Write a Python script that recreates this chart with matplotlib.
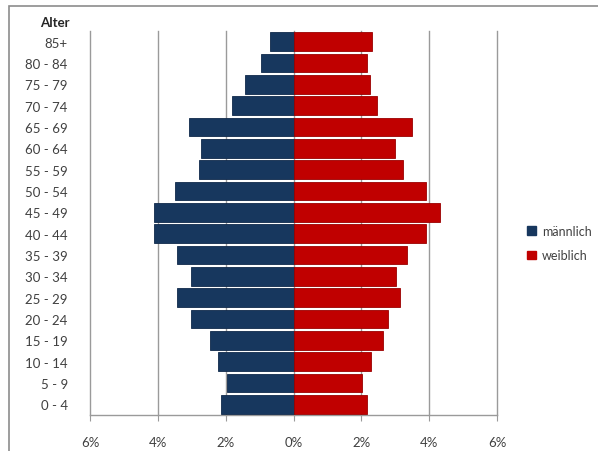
import matplotlib
matplotlib.use("Agg")
import matplotlib.pyplot as plt
from matplotlib.patches import Patch, Rectangle
from matplotlib.ticker import FuncFormatter
import numpy as np

# Altersgruppen von unten nach oben
altersgruppen = ["0 - 4", "5 - 9", "10 - 14", "15 - 19", "20 - 24", "25 - 29",
                 "30 - 34", "35 - 39", "40 - 44", "45 - 49", "50 - 54", "55 - 59",
                 "60 - 64", "65 - 69", "70 - 74", "75 - 79", "80 - 84", "85+"]
maennlich = [2.15, 1.97, 2.24, 2.47, 3.03, 3.44, 3.03, 3.44, 4.12, 4.12,
             3.50, 2.79, 2.74, 3.09, 1.80, 1.44, 0.97, 0.70]
weiblich = [2.18, 2.03, 2.29, 2.65, 2.80, 3.15, 3.03, 3.35, 3.91, 4.32,
            3.91, 3.24, 3.00, 3.50, 2.47, 2.26, 2.18, 2.32]
x_ticks = [-6, -4, -2, 0, 2, 4, 6]

blau = "#17375E"
rot = "#C00000"
grau = "#9A9A9A"
text_farbe = "#404040"

plt.rcParams['font.family'] = ['Lato', 'DejaVu Sans']

W, H = 598, 452
fig = plt.figure(figsize=(W / 100, H / 100), dpi=100)
ax = fig.add_axes([90 / W, 36 / H, (497 - 90) / W, (420 - 36) / H])

y = np.arange(len(altersgruppen))
ax.barh(y, -np.array(maennlich), height=0.88, color=blau, edgecolor="#10294a",
        linewidth=0.6, zorder=3, label="männlich")
ax.barh(y, weiblich, height=0.88, color=rot, edgecolor="#9a0000",
        linewidth=0.6, zorder=3, label="weiblich")

ax.set_xlim(-6, 6)
ax.set_ylim(-0.5, len(altersgruppen) - 0.5)
ax.set_xticks(x_ticks)
ax.xaxis.set_major_formatter(FuncFormatter(lambda v, p: f"{abs(v):.0f}%"))
ax.set_yticks(y)
ax.set_yticklabels(altersgruppen)

for v in x_ticks[1:]:
    ax.axvline(v, color=grau, linewidth=1.0, zorder=1, clip_on=False)

for s in ["top", "right"]:
    ax.spines[s].set_visible(False)
for s in ["left", "bottom"]:
    ax.spines[s].set_color(grau)
    ax.spines[s].set_linewidth(1.0)

ax.tick_params(axis="x", length=4, color=grau, pad=11, labelsize=9.5,
               labelcolor=text_farbe)
ax.tick_params(axis="y", length=0, pad=16, labelsize=9.5, labelcolor=text_farbe)

fig.text(55 / W, 1 - 23 / H, "Alter", ha="center", va="center",
         fontsize=9.5, fontweight="bold", color="#262626")

fig.legend(handles=[Patch(color=blau, label="männlich"),
                    Patch(color=rot, label="weiblich")],
           loc="center left", bbox_to_anchor=(516 / W, 1 - 244 / H),
           frameon=False, fontsize=9, handlelength=0.7, handleheight=0.7,
           handletextpad=0.5, labelspacing=1.0, labelcolor=text_farbe)

# Rahmen um das Diagramm
fig.add_artist(Rectangle((9 / W, -0.1), 1.2, 1 - 7 / H + 0.1,
                         transform=fig.transFigure, fill=False,
                         edgecolor="#8c8c8c", linewidth=1.2))

fig.savefig("out.png", dpi=100)
